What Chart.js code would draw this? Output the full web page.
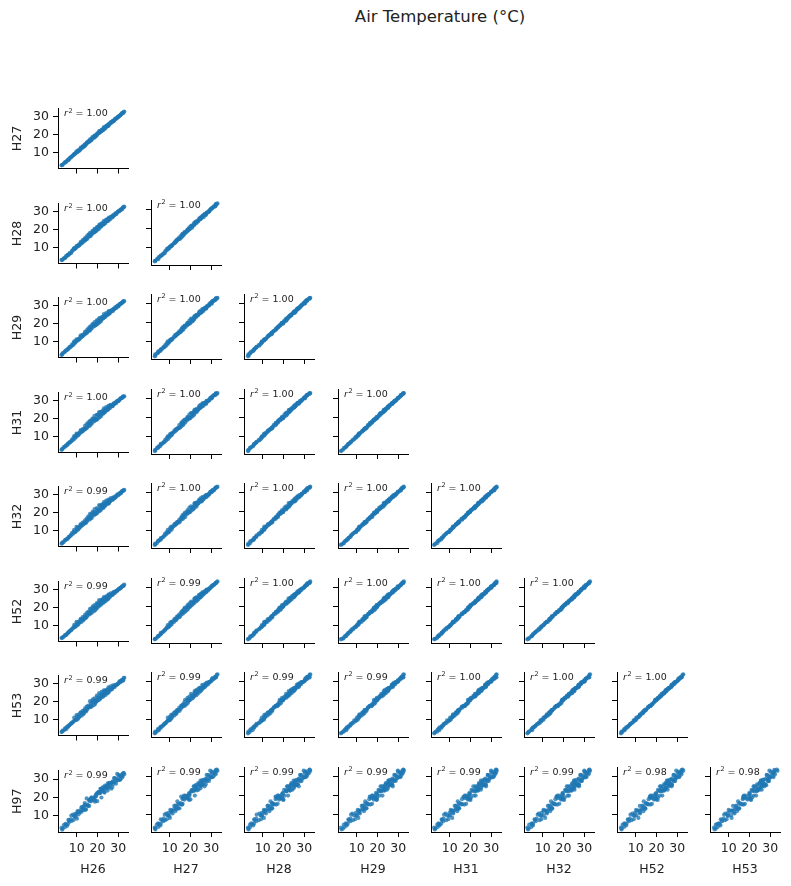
<!DOCTYPE html>
<html>
<head>
<meta charset="utf-8">
<script src="https://cdn.jsdelivr.net/npm/chart.js@4.4.0/dist/chart.umd.min.js"></script>
<style>
  body { margin: 0; background: #fff; width: 791px; height: 886px; position: relative; overflow: hidden; font-family: "DejaVu Sans", sans-serif; }
  #title { position: absolute; left: 290px; top: 7px; width: 300px; text-align: center; font-size: 16.5px; line-height: 20px; color: #222; }
  canvas { position: absolute; }
</style>
</head>
<body>
<div id="title">Air Temperature (°C)</div>
<script>
// sensors on the rows / columns of the lower triangle
var rowNames = ['H27', 'H28', 'H29', 'H31', 'H32', 'H52', 'H53', 'H97'];
var colNames = ['H26', 'H27', 'H28', 'H29', 'H31', 'H32', 'H52', 'H53'];
var tickValues = [10, 20, 30];

var r2Labels = [
  ['1.00'],
  ['1.00', '1.00'],
  ['1.00', '1.00', '1.00'],
  ['1.00', '1.00', '1.00', '1.00'],
  ['0.99', '1.00', '1.00', '1.00', '1.00'],
  ['0.99', '0.99', '1.00', '1.00', '1.00', '1.00'],
  ['0.99', '0.99', '0.99', '0.99', '1.00', '1.00', '1.00'],
  ['0.99', '0.99', '0.99', '0.99', '0.99', '0.99', '0.98', '0.98']
];

// air temperature readings (°C), same timestamps for every sensor
var H26 = [2.7, 3.2, 3.8, 4.3, 4.9, 5.4, 6.0, 6.6, 7.1, 7.7,
  8.2, 8.8, 9.3, 9.9, 10.4, 10.9, 11.5, 12.0, 12.6, 13.1,
  13.7, 14.2, 14.8, 15.3, 15.9, 16.4, 17.0, 17.5, 18.1, 18.6,
  19.2, 19.7, 20.3, 20.8, 21.4, 22.0, 22.5, 23.1, 23.6, 24.2,
  24.7, 25.3, 25.8, 26.4, 26.9, 27.5, 28.0, 28.6, 29.1, 29.7,
  30.2, 30.8, 31.3, 31.9, 32.4, 32.9, 11.2, 14.5, 16.7, 18.9,
  21.1, 23.4, 25.5, 27.2, 13.4, 19.9, 22.8, 9.6, 6.3, 24.9,
  3.0, 4.6, 5.7, 7.4, 8.5, 9.0, 10.1, 10.7, 11.8, 12.3,
  12.9, 13.9, 14.0, 15.0, 15.6, 16.2, 16.9, 17.3, 17.8, 18.3,
  18.8, 19.4, 20.0, 20.6, 21.2, 21.7, 22.3, 22.7, 23.3, 23.9,
  24.4, 25.0, 25.6, 26.1, 26.7, 27.4, 27.9, 28.3, 28.9, 29.5,
  30.0, 30.5, 31.1, 31.6, 32.2, 32.6, 16.0, 19.0, 21.9, 24.6];
var H27 = [2.8, 3.0, 3.8, 4.5, 4.8, 5.5, 5.7, 6.9, 7.1, 7.8,
  8.3, 9.1, 9.4, 10.7, 10.3, 11.4, 11.3, 12.7, 12.8, 13.0,
  14.1, 14.1, 15.5, 15.7, 16.2, 17.4, 16.9, 18.5, 18.5, 19.5,
  19.5, 20.3, 20.8, 22.0, 21.6, 22.9, 22.7, 24.2, 23.8, 24.8,
  25.2, 25.7, 26.0, 27.1, 26.9, 27.9, 27.8, 29.0, 29.1, 29.7,
  30.3, 30.7, 31.3, 32.1, 32.3, 33.0, 10.9, 14.7, 16.7, 18.8,
  21.2, 23.2, 25.5, 27.4, 13.4, 20.0, 22.6, 9.8, 6.3, 24.8,
  3.1, 4.4, 5.7, 7.6, 8.6, 9.1, 10.1, 10.9, 12.2, 12.2,
  13.5, 13.7, 14.6, 15.2, 16.2, 16.3, 17.1, 17.5, 18.6, 18.2,
  19.4, 19.2, 20.7, 20.8, 21.9, 21.8, 22.4, 22.9, 23.9, 23.8,
  24.9, 24.8, 26.1, 26.3, 26.8, 27.5, 27.8, 28.5, 28.9, 29.5,
  30.1, 30.3, 31.1, 31.8, 32.1, 32.7, 16.0, 19.5, 22.1, 24.7];
var H28 = [2.9, 3.1, 3.9, 4.0, 5.1, 5.4, 5.9, 6.9, 6.9, 8.1,
  8.4, 9.6, 9.6, 10.8, 10.6, 11.6, 11.5, 13.2, 12.7, 13.1,
  14.5, 14.3, 16.2, 15.4, 16.9, 18.2, 17.4, 19.1, 18.6, 20.5,
  19.7, 21.3, 21.3, 22.5, 22.1, 23.6, 23.5, 25.0, 23.8, 25.6,
  25.7, 26.4, 26.3, 27.1, 27.3, 28.1, 28.0, 29.1, 28.9, 29.9,
  30.4, 30.8, 31.4, 31.6, 32.6, 32.9, 11.1, 14.6, 16.5, 18.9,
  21.3, 23.3, 25.6, 26.9, 13.8, 19.9, 22.9, 9.7, 6.1, 24.9,
  3.2, 4.5, 5.8, 7.1, 9.2, 9.0, 10.6, 10.8, 12.4, 12.3,
  14.1, 13.8, 15.3, 14.7, 17.2, 16.2, 17.9, 17.4, 19.3, 18.3,
  20.0, 19.3, 21.4, 20.3, 23.0, 21.7, 23.0, 22.8, 24.3, 23.9,
  25.3, 24.9, 26.8, 25.8, 27.4, 27.4, 28.2, 28.4, 28.7, 29.7,
  30.2, 30.4, 31.2, 31.3, 32.4, 32.6, 16.4, 19.7, 22.2, 24.9];
var H29 = [2.4, 3.4, 3.8, 4.2, 5.0, 5.2, 6.0, 7.0, 7.0, 8.2,
  7.9, 10.1, 9.6, 11.2, 10.5, 11.5, 11.6, 13.5, 12.9, 13.2,
  14.1, 14.6, 16.3, 15.6, 17.0, 18.3, 17.6, 19.5, 18.8, 20.9,
  19.3, 21.9, 21.4, 23.0, 22.1, 23.6, 23.8, 25.4, 24.0, 26.0,
  25.3, 26.9, 26.2, 27.4, 27.3, 28.0, 28.1, 29.3, 29.0, 30.1,
  29.9, 31.1, 31.3, 31.8, 32.5, 32.7, 11.2, 14.7, 16.6, 19.0,
  20.8, 23.6, 25.5, 27.1, 13.8, 19.7, 23.0, 9.8, 6.2, 25.0,
  2.7, 4.8, 5.7, 7.3, 9.2, 8.8, 10.8, 10.9, 12.7, 12.4,
  13.7, 14.1, 15.4, 14.9, 17.4, 16.0, 18.2, 17.5, 19.7, 18.4,
  19.6, 19.6, 21.5, 20.5, 23.1, 21.5, 23.3, 22.9, 24.6, 24.0,
  24.9, 25.2, 26.9, 26.0, 27.4, 27.2, 28.3, 28.5, 28.8, 29.8,
  29.7, 30.7, 31.1, 31.5, 32.3, 32.4, 16.6, 19.9, 22.4, 25.1];
var H31 = [2.5, 3.2, 4.0, 4.2, 5.0, 5.1, 6.2, 6.9, 7.0, 8.3,
  8.0, 10.2, 9.9, 11.6, 10.5, 11.7, 11.9, 13.6, 13.0, 13.2,
  14.4, 14.5, 17.0, 15.7, 17.3, 18.8, 17.9, 19.8, 19.1, 21.6,
  19.5, 22.2, 21.9, 23.7, 22.3, 24.0, 24.3, 25.8, 24.1, 26.5,
  25.7, 27.1, 26.5, 27.7, 27.4, 28.1, 28.4, 29.2, 29.0, 30.2,
  30.0, 31.0, 31.5, 31.8, 32.5, 32.6, 11.4, 14.5, 16.6, 19.0,
  20.9, 23.4, 25.7, 27.1, 13.9, 19.6, 23.3, 9.6, 6.2, 25.0,
  2.8, 4.6, 5.9, 7.3, 9.3, 8.7, 11.2, 10.7, 13.0, 12.4,
  14.1, 13.9, 16.0, 14.9, 17.9, 15.9, 18.7, 17.3, 20.2, 18.4,
  20.0, 19.4, 22.2, 20.5, 23.6, 21.4, 23.8, 22.7, 25.0, 24.0,
  25.3, 25.0, 27.4, 26.0, 27.5, 27.1, 28.6, 28.3, 28.8, 29.9,
  29.8, 30.5, 31.3, 31.5, 32.3, 32.3, 17.0, 19.9, 22.5, 25.2];
var H32 = [2.6, 3.3, 3.5, 4.5, 4.9, 5.3, 6.1, 6.7, 7.1, 8.5,
  8.1, 10.4, 9.4, 12.1, 10.4, 12.0, 11.8, 13.6, 13.1, 13.3,
  14.6, 14.6, 16.7, 16.1, 17.3, 19.3, 17.9, 19.8, 19.3, 22.0,
  19.6, 22.6, 21.5, 24.3, 22.3, 24.5, 24.4, 25.9, 24.3, 26.8,
  25.9, 27.4, 26.1, 28.2, 27.3, 28.4, 28.3, 29.1, 29.1, 30.3,
  30.1, 31.1, 31.0, 32.1, 32.4, 32.8, 11.3, 14.3, 16.7, 19.1,
  21.0, 23.5, 25.2, 27.4, 13.8, 19.8, 23.2, 9.4, 6.3, 25.1,
  2.9, 4.7, 5.4, 7.6, 9.3, 8.9, 11.2, 10.5, 13.2, 12.5,
  14.4, 14.0, 15.7, 15.2, 18.0, 16.1, 18.8, 17.1, 20.6, 18.5,
  20.3, 19.5, 21.9, 20.8, 23.8, 21.6, 23.8, 22.5, 25.3, 24.1,
  25.5, 25.1, 27.1, 26.3, 27.5, 27.3, 28.6, 28.1, 28.9, 30.0,
  29.9, 30.6, 30.8, 31.8, 32.2, 32.5, 17.0, 19.8, 22.7, 25.3];
var H52 = [2.9, 3.2, 3.7, 4.4, 4.7, 5.4, 6.2, 6.8, 7.2, 8.0,
  8.4, 10.3, 9.6, 12.0, 10.2, 12.1, 11.9, 13.7, 13.2, 12.8,
  14.9, 14.5, 16.9, 16.0, 17.1, 19.4, 18.0, 19.9, 19.4, 21.5,
  19.9, 22.5, 21.7, 24.2, 22.1, 24.6, 24.5, 26.0, 24.4, 26.3,
  26.2, 27.3, 26.3, 28.1, 27.1, 28.5, 28.4, 29.2, 29.2, 29.8,
  30.4, 31.0, 31.2, 32.0, 32.2, 32.9, 11.4, 14.4, 16.8, 18.6,
  21.3, 23.4, 25.4, 27.3, 13.6, 19.9, 23.3, 9.5, 6.4, 24.6,
  3.2, 4.6, 5.6, 7.5, 9.1, 9.0, 11.3, 10.6, 13.3, 12.0,
  14.7, 13.9, 15.9, 15.1, 17.8, 16.2, 18.9, 17.2, 20.7, 18.0,
  20.6, 19.4, 22.1, 20.7, 23.6, 21.7, 23.9, 22.6, 25.4, 23.6,
  25.8, 25.0, 27.3, 26.2, 27.3, 27.4, 28.7, 28.2, 29.0, 29.5,
  30.2, 30.5, 31.0, 31.7, 32.0, 32.6, 17.1, 19.9, 22.8, 24.8];
var H53 = [2.9, 3.8, 3.8, 4.7, 4.5, 6.0, 6.2, 6.9, 7.5, 8.2,
  8.4, 11.1, 9.7, 12.5, 10.0, 12.8, 11.9, 14.0, 13.6, 12.9,
  15.0, 15.1, 17.2, 16.4, 17.0, 20.3, 18.1, 20.3, 19.8, 21.9,
  20.0, 23.4, 22.0, 24.8, 22.0, 25.5, 24.7, 26.4, 24.8, 26.6,
  26.3, 28.1, 26.5, 28.6, 26.9, 29.2, 28.4, 29.4, 29.5, 29.9,
  30.4, 31.6, 31.3, 32.3, 32.0, 33.5, 11.4, 14.5, 17.1, 18.7,
  21.3, 24.0, 25.5, 27.6, 13.4, 20.5, 23.3, 9.6, 6.7, 24.7,
  3.2, 5.2, 5.7, 7.8, 9.0, 9.6, 11.4, 10.7, 13.7, 12.1,
  14.9, 14.5, 16.2, 15.4, 17.8, 16.8, 19.1, 17.3, 21.3, 18.1,
  20.8, 20.0, 22.4, 21.0, 23.7, 22.3, 24.0, 22.7, 25.9, 23.7,
  25.9, 25.6, 27.6, 26.5, 27.2, 28.0, 28.8, 28.3, 29.3, 29.6,
  30.2, 31.1, 31.1, 32.0, 31.8, 33.2, 17.2, 20.1, 23.2, 25.0];
var H97 = [3.3, 2.8, 4.8, 3.6, 5.1, 4.4, 7.6, 6.6, 8.0, 7.1,
  10.6, 9.7, 10.9, 11.1, 12.5, 10.6, 12.1, 11.8, 14.7, 12.8,
  15.6, 13.3, 19.4, 15.3, 18.5, 18.6, 19.9, 18.5, 19.7, 19.8,
  21.3, 22.2, 22.7, 22.9, 24.7, 24.0, 25.5, 25.3, 26.4, 25.1,
  26.4, 25.3, 28.0, 27.7, 28.2, 27.3, 30.6, 28.7, 30.3, 29.3,
  32.3, 29.5, 31.5, 30.9, 33.2, 32.7, 12.1, 13.3, 19.1, 18.3,
  22.3, 22.6, 27.6, 25.7, 14.2, 17.9, 24.7, 9.3, 7.2, 23.7,
  2.3, 5.5, 5.3, 10.0, 7.6, 9.6, 8.3, 12.0, 13.0, 14.5,
  13.1, 16.9, 15.5, 16.0, 15.6, 18.0, 17.8, 19.9, 18.9, 18.9,
  17.6, 20.7, 22.0, 22.8, 22.4, 24.7, 23.2, 23.7, 22.9, 25.7,
  24.7, 27.6, 25.7, 26.7, 24.7, 28.7, 28.3, 30.5, 27.5, 32.8,
  29.5, 31.5, 29.9, 32.5, 31.7, 33.4, 15.2, 20.6, 19.9, 26.4];

var readings = { H26: H26, H27: H27, H28: H28, H29: H29, H31: H31, H32: H32, H52: H52, H53: H53, H97: H97 };

var textColor = '#222';
var dotColor = 'rgba(31, 119, 180, 0.78)';

// r² note in the upper left corner of each panel
var r2Plugin = {
  id: 'r2',
  afterDraw: function (chart, args, opts) {
    var ctx = chart.ctx;
    var a = chart.chartArea;
    var x = a.left + 6, y = a.top + 7.5;
    ctx.save();
    ctx.fillStyle = textColor;
    ctx.textAlign = 'left';
    ctx.textBaseline = 'alphabetic';
    ctx.font = 'italic 9.5px "DejaVu Sans"';
    ctx.fillText('r', x, y);
    x += ctx.measureText('r').width + 0.5;
    ctx.font = '6.5px "DejaVu Sans"';
    ctx.fillText('2', x, y - 3.5);
    x += ctx.measureText('2').width;
    ctx.font = '9.5px "DejaVu Sans"';
    ctx.fillText(' = ' + opts.text, x, y);
    ctx.restore();
  }
};

var panelW = 70, panelH = 65;
var padL = 48, padT = 8, padR = 6;

function makePanel(r, c) {
  var last = r === rowNames.length - 1;
  var padB = last ? 48 : 10;
  var left = 58 + 93.2 * c;
  var top = 105 + 94.5 * r;

  var canvas = document.createElement('canvas');
  canvas.width = padL + panelW + padR;
  canvas.height = padT + panelH + padB;
  canvas.style.left = (left - padL) + 'px';
  canvas.style.top = (top - padT) + 'px';
  document.body.appendChild(canvas);

  var xs = readings[colNames[c]];
  var ys = readings[rowNames[r]];
  var pts = xs.map(function (x, k) { return { x: x, y: ys[k] }; });

  var grid = { display: true, drawOnChartArea: false, drawTicks: true, tickLength: 5, color: '#000', lineWidth: 1 };
  var border = { display: true, color: '#000', width: 1 };
  var tickFont = { size: 12.5, family: 'DejaVu Sans' };
  var setTicks = function (s) { s.ticks = tickValues.map(function (v) { return { value: v }; }); };

  new Chart(canvas, {
    type: 'scatter',
    data: {
      datasets: [{
        data: pts,
        backgroundColor: dotColor,
        borderWidth: 0,
        pointRadius: 2.1,
        pointHoverRadius: 2.1
      }]
    },
    options: {
      responsive: false,
      animation: false,
      events: [],
      layout: { padding: { top: padT, right: padR, left: 0, bottom: 0 } },
      plugins: {
        legend: { display: false },
        tooltip: { enabled: false },
        r2: { text: r2Labels[r][c] }
      },
      scales: {
        x: {
          type: 'linear', min: 1, max: 34.7,
          afterBuildTicks: setTicks,
          afterFit: function (s) { s.height = padB; },
          grid: grid, border: border,
          ticks: { display: last, color: textColor, font: tickFont, padding: 4, maxRotation: 0, autoSkip: false },
          title: { display: last, text: colNames[c], color: textColor, font: { size: 12.5, family: 'DejaVu Sans' }, padding: { top: 0, bottom: 3 } }
        },
        y: {
          type: 'linear', min: 1, max: 34.7,
          afterBuildTicks: setTicks,
          afterFit: function (s) { s.width = padL; },
          grid: grid, border: border,
          ticks: { display: c === 0, color: textColor, font: tickFont, padding: 4, autoSkip: false },
          title: { display: c === 0, text: rowNames[r], color: textColor, font: { size: 12.5, family: 'DejaVu Sans' }, padding: { top: 0, bottom: 0 } }
        }
      }
    },
    plugins: [r2Plugin]
  });
}

for (var r = 0; r < rowNames.length; r++) {
  for (var c = 0; c <= r; c++) {
    makePanel(r, c);
  }
}
</script>
</body>
</html>
